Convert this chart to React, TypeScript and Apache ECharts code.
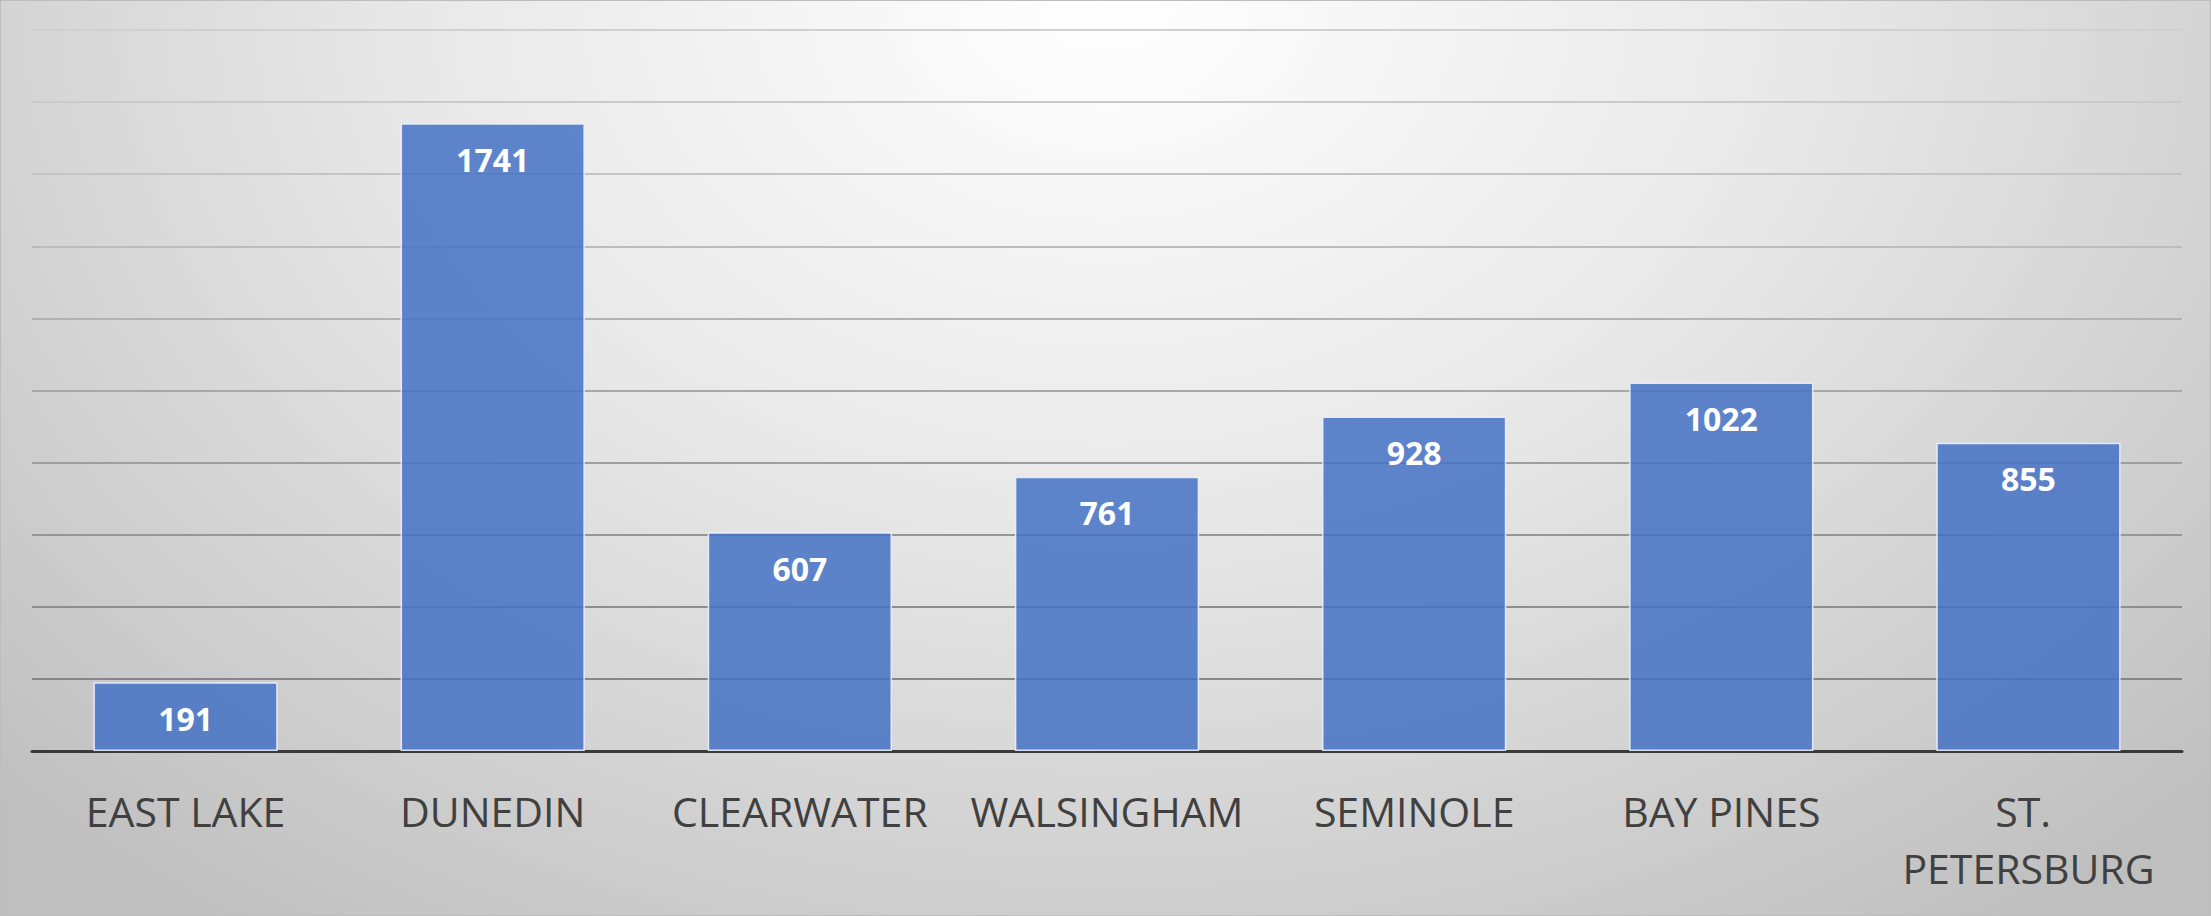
import React, { useEffect, useRef } from "react";
import * as echarts from "echarts";

const categories = ["EAST LAKE", "DUNEDIN", "CLEARWATER", "WALSINGHAM", "SEMINOLE", "BAY PINES", "ST. PETERSBURG"];
const values = [191, 1741, 607, 761, 928, 1022, 855];
const gridColors = ["#7a7a7a", "#868686", "#8e8e8e", "#969696", "#9e9e9e", "#a8a8a8", "#b2b2b2", "#bcbcbc", "#c4c4c4", "#cacaca", "#d0d0d0"];

export default function App() {
  const ref = useRef<HTMLDivElement>(null);
  useEffect(() => {
    document.body.style.margin = "0";
    const chart = echarts.init(ref.current!, null, { renderer: "svg" });
    chart.setOption({
      animation: false,
      backgroundColor: "transparent",
      grid: { left: 31, right: 28, top: 29, bottom: 164, containLabel: false },
      xAxis: {
        type: "category",
        data: categories,
        axisLine: { lineStyle: { color: "#3a3a3a", width: 3 } },
        axisTick: { show: false },
        axisLabel: {
          color: "#404040",
          fontFamily: "Open Sans",
          fontSize: 41,
          lineHeight: 57,
          margin: 31,
          width: 300,
          overflow: "break",
          interval: 0,
        },
      },
      yAxis: {
        type: "value",
        min: 0,
        max: 2000,
        interval: 200,
        axisLabel: { show: false },
        axisLine: { show: false },
        axisTick: { show: false },
        splitLine: { lineStyle: { color: gridColors, width: 2 } },
      },
      series: [
        {
          type: "bar",
          data: values,
          barWidth: "60%",
          itemStyle: {
            color: "rgba(68,114,196,0.85)",
            borderColor: "rgba(235,240,250,0.9)",
            borderWidth: 1.5,
          },
          label: {
            show: true,
            position: "insideTop",
            distance: 20,
            color: "#ffffff",
            fontFamily: "Open Sans",
            fontWeight: "bold",
            fontSize: 32,
          },
        },
      ],
    });
    return () => chart.dispose();
  }, []);
  return (
    <div
      ref={ref}
      style={{
        position: "absolute",
        left: 0,
        top: 0,
        width: 2211,
        height: 916,
        boxSizing: "border-box",
        border: "1px solid #bdbdbd",
        background: "radial-gradient(ellipse 70% 125% at 50% 0%, #ffffff 0%, #e8e8e8 45%, #bfbfbf 100%)",
      }}
    />
  );
}
